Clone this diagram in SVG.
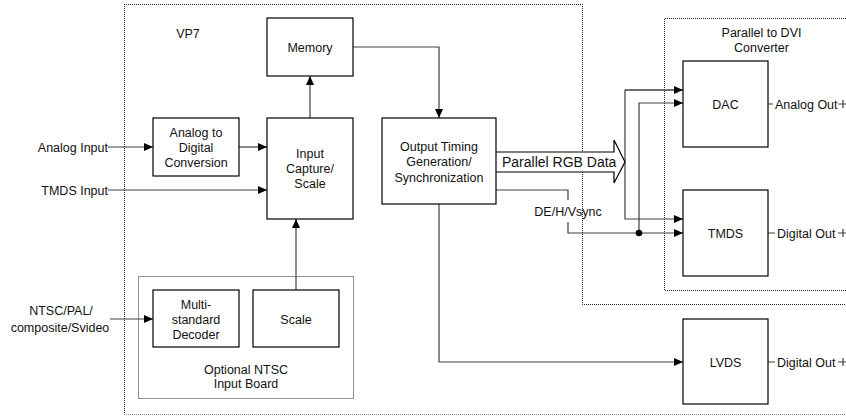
<svg xmlns="http://www.w3.org/2000/svg" width="846" height="419" viewBox="0 0 846 419">
<style>
  .t { font-family: "Liberation Sans", Arial, sans-serif; font-size: 12.5px; fill: #111; }
  .c { text-anchor: middle; }
  .e { text-anchor: end; }
  .box { fill: #fff; stroke: #000; stroke-width: 1.2; }
  .dot { fill: none; stroke: #222; stroke-width: 1; stroke-dasharray: 1 1; }
  .dotl { fill: none; stroke: #888; stroke-width: 1; stroke-dasharray: 1 1; }
  .ln { fill: none; stroke: #404040; stroke-width: 1.2; }
</style>
<defs>
  <marker id="ah" markerWidth="9" markerHeight="8" refX="9" refY="4" orient="auto" markerUnits="userSpaceOnUse">
    <path d="M0,0 L9,4 L0,8 Z" fill="#000"/>
  </marker>
</defs>
<rect width="846" height="419" fill="#fff"/>

<g id="vp7-frame">
  <path class="dot" d="M124,4.5 H582.5 V304.5 H846"/>
  <path class="dot" d="M124.5,4 V414"/>
  <path class="dotl" d="M124,414.5 H846"/>
  <text class="t c" x="188" y="37.5">VP7</text>
</g>

<g id="dvi-frame">
  <path class="dot" d="M846,18.5 H664.5 V290.5 H846"/>
  <text class="t c" x="761.5" y="36.5">Parallel to DVI</text>
  <text class="t c" x="761.5" y="51.5">Converter</text>
</g>

<g id="ntsc-frame">
  <path class="dot" d="M138.5,276.5 H353.5 V398.5 H138.5 Z"/>
  <text class="t c" x="246" y="373.5">Optional NTSC</text>
  <text class="t c" x="246" y="387.5">Input Board</text>
</g>

<g id="connectors">
  <line class="ln" x1="108" y1="147" x2="153" y2="147" marker-end="url(#ah)"/>
  <line class="ln" x1="239" y1="147" x2="267" y2="147" marker-end="url(#ah)"/>
  <line class="ln" x1="108" y1="190" x2="267" y2="190" marker-end="url(#ah)"/>
  <line class="ln" x1="110" y1="319" x2="153" y2="319" marker-end="url(#ah)"/>
  <line class="ln" x1="310" y1="118" x2="310" y2="76" marker-end="url(#ah)"/>
  <line class="ln" x1="296" y1="290" x2="296" y2="219" marker-end="url(#ah)"/>
  <path class="ln" d="M353,47 H439 V118" marker-end="url(#ah)"/>
  <path class="ln" d="M439,204 V362 H683" marker-end="url(#ah)"/>
  <path class="ln" d="M496,190 H568 V200"/>
  <path class="ln" d="M568,222 V233 H683" marker-end="url(#ah)"/>
  <path class="ln" d="M683,90 H625 V219 H683" marker-end="url(#ah)"/>
  <path class="ln" d="M625,90 H683" marker-end="url(#ah)"/>
  <path class="ln" d="M639,233 V103 H683" marker-end="url(#ah)"/>
  <circle cx="639" cy="233" r="3.3" fill="#000"/>
  <path class="ln" d="M768,104 H773 M838,104 H846 M843,100 V108"/>
  <path class="ln" d="M768,233 H775 M838,233 H846 M843,229 V237"/>
  <path class="ln" d="M768,362 H775 M838,362 H846 M843,358 V366"/>
  <path id="rgb-bus" d="M496,152 H614 V140 L625,162 L614,183 V172 H496" fill="#fff" stroke="#000" stroke-width="1.2"/>
  <text class="t" x="502" y="167" style="font-size:14px">Parallel RGB Data</text>
  <text class="t c" x="568" y="215.5">DE/H/Vsync</text>
</g>

<g id="memory">
  <rect class="box" x="267" y="18" width="86" height="58"/>
  <text class="t c" x="310" y="51.5">Memory</text>
</g>
<g id="input-capture">
  <rect class="box" x="267" y="118" width="86" height="101"/>
  <text class="t c" x="310" y="157.5">Input</text>
  <text class="t c" x="310" y="172.5">Capture/</text>
  <text class="t c" x="310" y="187.5">Scale</text>
</g>
<g id="adc">
  <rect class="box" x="153" y="118" width="86" height="58"/>
  <text class="t c" x="196" y="136.5">Analog to</text>
  <text class="t c" x="196" y="151.5">Digital</text>
  <text class="t c" x="196" y="166.5">Conversion</text>
</g>
<g id="output-timing">
  <rect class="box" x="382" y="118" width="114" height="86"/>
  <text class="t c" x="439" y="150.5">Output Timing</text>
  <text class="t c" x="439" y="166">Generation/</text>
  <text class="t c" x="439" y="181.5">Synchronization</text>
</g>
<g id="decoder">
  <rect class="box" x="153" y="290" width="86" height="57"/>
  <text class="t c" x="196" y="308.5">Multi-</text>
  <text class="t c" x="196" y="323.5">standard</text>
  <text class="t c" x="196" y="338.5">Decoder</text>
</g>
<g id="scale">
  <rect class="box" x="253" y="290" width="86" height="57"/>
  <text class="t c" x="296" y="323.5">Scale</text>
</g>
<g id="dac">
  <rect class="box" x="683" y="61" width="85" height="86"/>
  <text class="t c" x="725.5" y="108.5">DAC</text>
  <text class="t" x="775" y="108.5">Analog Out</text>
</g>
<g id="tmds">
  <rect class="box" x="683" y="190" width="85" height="86"/>
  <text class="t c" x="725.5" y="237.5">TMDS</text>
  <text class="t" x="777" y="237.5">Digital Out</text>
</g>
<g id="lvds">
  <rect class="box" x="683" y="319" width="85" height="85"/>
  <text class="t c" x="725.5" y="366.5">LVDS</text>
  <text class="t" x="777" y="366.5">Digital Out</text>
</g>

<g id="inputs">
  <text class="t e" x="108" y="151.5">Analog Input</text>
  <text class="t e" x="108" y="194.5">TMDS Input</text>
  <text class="t c" x="61" y="314.5">NTSC/PAL/</text>
  <text class="t c" x="60" y="331.5">composite/Svideo</text>
</g>
</svg>
